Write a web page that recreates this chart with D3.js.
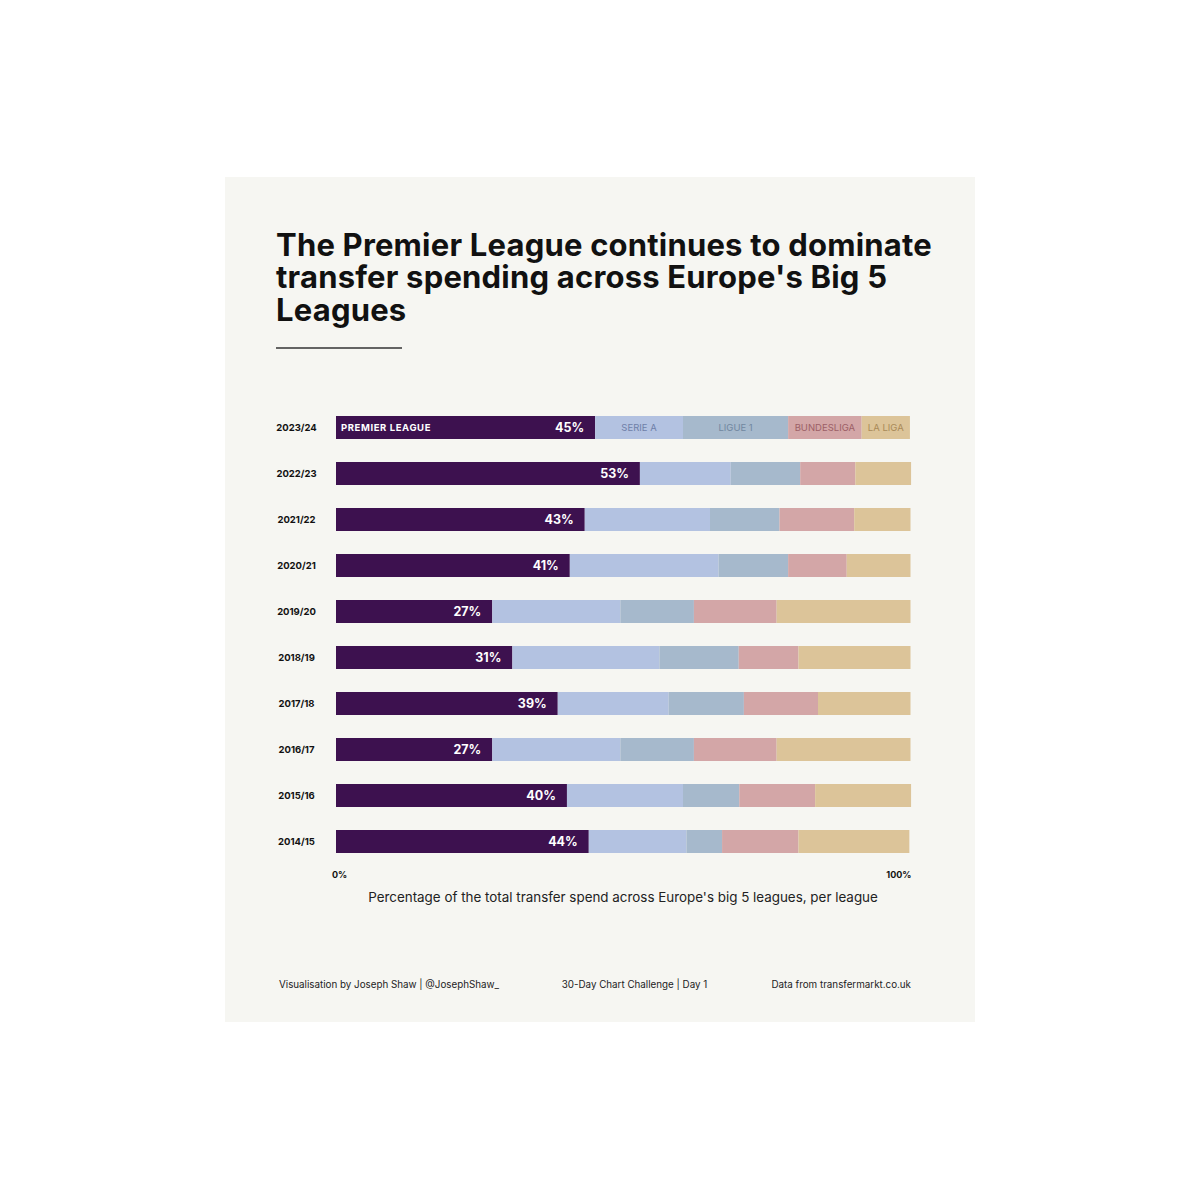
<!DOCTYPE html>
<html>
<head>
<meta charset="utf-8">
<script src="https://cdn.jsdelivr.net/npm/d3@7"></script>
<style>
  body { margin: 0; background: #ffffff; position: relative; }
  svg { display: block; }
  .title {
    position: absolute;
    left: 276px;
    top: 228.5px;
    width: 680px;
    font-family: Inter, "Open Sans", sans-serif;
    font-weight: 700;
    font-size: 31px;
    letter-spacing: 0.2px;
    line-height: 32.5px;
    white-space: pre-line;
    color: #111111;
  }
</style>
</head>
<body>
<script>
// values, % of big-5 transfer spend
const seasons = ["2023/24", "2022/23", "2021/22", "2020/21", "2019/20", "2018/19", "2017/18", "2016/17", "2015/16", "2014/15"];
const premierLeague = [45.1, 52.9, 43.3, 40.7, 27.2, 30.7, 38.6, 27.2, 40.2, 44.0];
const serieA = [15.3, 15.8, 21.8, 25.9, 22.3, 25.6, 19.3, 22.3, 20.2, 17.0];
const ligue1 = [18.3, 12.1, 12.1, 12.1, 12.8, 13.8, 13.1, 12.8, 9.8, 6.2];
const bundesliga = [12.8, 9.6, 13.0, 10.2, 14.4, 10.4, 12.9, 14.4, 13.2, 13.3];
const laLiga = [8.4, 9.7, 9.8, 11.1, 23.3, 19.5, 16.1, 23.3, 16.7, 19.3];

const leagues = ["PREMIER LEAGUE", "SERIE A", "LIGUE 1", "BUNDESLIGA", "LA LIGA"];
const leagueColors = ["#3d114f", "#b3c2e1", "#a6b9cc", "#d3a6a7", "#dcc499"];
const leagueTextColors = ["#ffffff", "#6f7fa8", "#71879f", "#9c5f66", "#a98a58"];
const axisLabels = ["0%", "100%"];
const titleLines = [
  "The Premier League continues to dominate",
  "transfer spending across Europe's Big 5",
  "Leagues"
];

const width = 1200;
const height = 1200;

const dataset = seasons.map((s, i) => ({
  season: s,
  "PREMIER LEAGUE": premierLeague[i],
  "SERIE A": serieA[i],
  "LIGUE 1": ligue1[i],
  "BUNDESLIGA": bundesliga[i],
  "LA LIGA": laLiga[i]
}));

const series = d3.stack().keys(leagues)(dataset);

const xScale = d3.scaleLinear()
  .domain([0, 100])
  .range([336, 910.5]);

const yScale = d3.scaleBand()
  .domain(seasons)
  .range([404.5, 864.5])
  .paddingInner(0.5)
  .paddingOuter(0.25);

const color = d3.scaleOrdinal().domain(leagues).range(leagueColors);
const textColor = d3.scaleOrdinal().domain(leagues).range(leagueTextColors);

const svg = d3.select("body").append("svg")
  .attr("width", width)
  .attr("height", height)
  .attr("viewBox", [0, 0, width, height]);

// panel
svg.append("rect")
  .attr("x", 225)
  .attr("y", 177)
  .attr("width", 750)
  .attr("height", 845)
  .attr("fill", "#f6f6f2");

// title, one block of text with hard line breaks
d3.select("body").append("div")
  .attr("class", "title")
  .text(titleLines.join("\n"));

svg.append("line")
  .attr("x1", 276)
  .attr("x2", 402)
  .attr("y1", 348)
  .attr("y2", 348)
  .attr("stroke", "#333333")
  .attr("stroke-width", 1.5);

// bars
svg.append("g")
  .selectAll("g")
  .data(series)
  .join("g")
    .attr("fill", d => color(d.key))
  .selectAll("rect")
  .data(d => d)
  .join("rect")
    .attr("x", d => xScale(d[0]))
    .attr("y", d => yScale(d.data.season))
    .attr("width", d => xScale(d[1]) - xScale(d[0]))
    .attr("height", yScale.bandwidth());

// PL percentage labels
svg.append("g")
    .attr("font-family", "Inter, sans-serif")
    .attr("font-weight", 700)
    .attr("font-size", 12.5)
    .attr("fill", "#ffffff")
    .attr("text-anchor", "end")
  .selectAll("text")
  .data(series[0])
  .join("text")
    .attr("x", d => xScale(d[1]) - 11)
    .attr("y", d => yScale(d.data.season) + yScale.bandwidth() / 2)
    .attr("dy", "0.36em")
    .text(d => Math.round(d[1] - d[0]) + "%");

// league names in the top row
const first = seasons[0];
svg.append("g")
    .attr("font-family", "Inter, sans-serif")
    .attr("font-size", 9.5)
  .selectAll("text")
  .data(series)
  .join("text")
    .attr("x", (d, i) => i === 0 ? xScale(d[0][0]) + 5 : (xScale(d[0][0]) + xScale(d[0][1])) / 2)
    .attr("y", yScale(first) + yScale.bandwidth() / 2)
    .attr("dy", "0.36em")
    .attr("text-anchor", (d, i) => i === 0 ? "start" : "middle")
    .attr("font-weight", (d, i) => i === 0 ? 700 : 400)
    .attr("letter-spacing", (d, i) => i === 0 ? 0.6 : 0)
    .attr("fill", d => textColor(d.key))
    .text(d => d.key);

// season labels
svg.append("g")
    .attr("font-family", "Inter, sans-serif")
    .attr("font-weight", 700)
    .attr("font-size", 9.5)
    .attr("fill", "#111111")
    .attr("text-anchor", "middle")
  .selectAll("text")
  .data(seasons)
  .join("text")
    .attr("x", 296.5)
    .attr("y", d => yScale(d) + yScale.bandwidth() / 2)
    .attr("dy", "0.36em")
    .text(d => d);

// 0% / 100%
svg.append("g")
    .attr("font-family", "Inter, sans-serif")
    .attr("font-weight", 700)
    .attr("font-size", 9)
    .attr("fill", "#111111")
  .selectAll("text")
  .data(axisLabels)
  .join("text")
    .attr("x", (d, i) => i === 0 ? xScale(0) - 4 : xScale(100) + 1)
    .attr("y", 878)
    .attr("text-anchor", (d, i) => i === 0 ? "start" : "end")
    .text(d => d);

svg.append("text")
  .attr("x", 623)
  .attr("y", 902)
  .attr("text-anchor", "middle")
  .attr("font-family", "Inter, sans-serif")
  .attr("font-size", 13.4)
  .attr("fill", "#222222")
  .text("Percentage of the total transfer spend across Europe's big 5 leagues, per league");

// footer
const footer = svg.append("g")
  .attr("font-family", "Inter, sans-serif")
  .attr("font-size", 9.8)
  .attr("fill", "#222222");

footer.append("text")
  .attr("x", 279)
  .attr("y", 988)
  .text("Visualisation by Joseph Shaw | @JosephShaw_");

footer.append("text")
  .attr("x", 634.5)
  .attr("y", 988)
  .attr("text-anchor", "middle")
  .text("30-Day Chart Challenge | Day 1");

footer.append("text")
  .attr("x", 911)
  .attr("y", 988)
  .attr("text-anchor", "end")
  .text("Data from transfermarkt.co.uk");
</script>
</body>
</html>
